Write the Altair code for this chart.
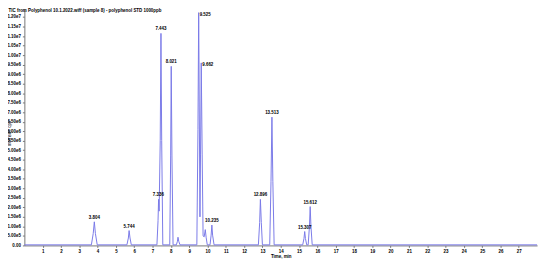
import altair as alt
import pandas as pd

# ---- data ----
trace_t = [0.00, 3.66, 3.76, 3.82, 3.88, 3.98, 5.60, 5.68, 5.72, 5.77, 5.84,
           7.24, 7.30, 7.33, 7.36, 7.42, 7.46, 7.50, 7.56, 7.94, 7.99, 8.02, 8.06, 8.12,
           8.30, 8.36, 8.39, 8.43, 8.50, 9.42, 9.48, 9.52, 9.59, 9.62, 9.66, 9.71, 9.76,
           9.82, 9.88, 9.93, 9.99, 10.14, 10.20, 10.24, 10.28, 10.36,
           12.78, 12.85, 12.89, 12.94, 13.00, 13.40, 13.47, 13.52, 13.57, 13.64,
           15.20, 15.27, 15.31, 15.35, 15.42, 15.50, 15.57, 15.61, 15.65, 15.72, 28.00]
trace_i = [0.03, 0.03, 0.62, 1.24, 0.62, 0.03, 0.03, 0.39, 0.78, 0.39, 0.03,
           0.03, 1.30, 2.42, 1.80, 5.50, 11.14, 5.50, 0.03, 0.03, 4.70, 9.41, 4.70, 0.03,
           0.03, 0.22, 0.43, 0.22, 0.03, 0.03, 6.10, 12.23, 1.50, 4.80, 9.59, 4.80, 0.50,
           0.45, 0.83, 0.40, 0.03, 0.03, 0.54, 1.07, 0.54, 0.03,
           0.03, 1.20, 2.42, 1.20, 0.03, 0.03, 3.37, 6.74, 3.37, 0.03,
           0.03, 0.36, 0.73, 0.36, 0.03, 0.03, 1.02, 2.04, 1.02, 0.03, 0.03]

peak_labels = ["3.804", "5.744", "7.336", "7.443", "8.021", "9.525", "9.662",
               "10.235", "12.896", "13.513", "15.307", "15.612"]
peak_t = [3.82, 5.72, 7.32, 7.46, 8.02, 9.52, 9.66, 10.24, 12.89, 13.52, 15.31, 15.61]
peak_i = [1.24, 0.78, 2.42, 11.14, 9.41, 12.23, 9.59, 1.07, 2.42, 6.74, 0.73, 2.04]
right_side = ["9.525", "9.662"]

x_ticks = list(range(1, 28))
y_ticks = [i * 0.5e6 for i in range(0, 25)]

title_text = "TIC from Polyphenol 10.1.2022.wiff (sample 8) - polyphenol STD 1000ppb"

trace = pd.DataFrame({"t": trace_t, "i": [v * 1e6 for v in trace_i]})
peaks = pd.DataFrame({"t": peak_t, "i": [v * 1e6 for v in peak_i], "lab": peak_labels})

FONT = "Liberation Sans"
LINE = "#7a7ae8"

xs = alt.Scale(domain=[0, 28], nice=False, zero=False)
ys = alt.Scale(domain=[0, 12.38e6], nice=False)

xaxis = alt.Axis(values=x_ticks, title="Time, min", labelPadding=1, titlePadding=1,
                 titleFontWeight="bold")
yaxis = alt.Axis(values=y_ticks, title="Intensity, cps", labelPadding=2,
                 titleFontWeight="normal", titleX=-13, titleY=125,
                 labelExpr="datum.value == 0 ? '0.00' : replace(format(datum.value, '.2e'), '+', '')")

line = alt.Chart(trace).mark_line(color=LINE, strokeWidth=1, clip=False).encode(
    x=alt.X("t:Q", scale=xs, axis=xaxis),
    y=alt.Y("i:Q", scale=ys, axis=yaxis),
)

lab_c = alt.Chart(peaks).transform_filter(
    ~alt.FieldOneOfPredicate(field="lab", oneOf=right_side)
).mark_text(font=FONT, fontSize=4.5, fontWeight="bold", baseline="bottom", dy=-2,
            color="#000").encode(x=alt.X("t:Q", scale=xs, axis=xaxis),
                                  y=alt.Y("i:Q", scale=ys, axis=yaxis), text="lab:N")

lab_r = alt.Chart(peaks).transform_filter(
    alt.FieldOneOfPredicate(field="lab", oneOf=right_side)
).mark_text(font=FONT, fontSize=4.5, fontWeight="bold", baseline="middle", align="left",
            dx=1, dy=2, color="#000").encode(x=alt.X("t:Q", scale=xs, axis=xaxis),
                                              y=alt.Y("i:Q", scale=ys, axis=yaxis), text="lab:N")

title = alt.Chart(pd.DataFrame({"s": [title_text]})).mark_text(
    font=FONT, fontSize=4.5, fontWeight="bold", align="left", baseline="middle", color="#000"
).encode(x=alt.value(-16), y=alt.value(1), text="s:N")

chart = alt.layer(line, lab_c, lab_r, title).properties(
    width=520, height=239,
    autosize="none",
    padding={"left": 16.6, "top": 0, "right": 5, "bottom": 14},
).configure_view(stroke=None).configure_axis(
    grid=False, tickSize=2, labelFontSize=4.5, labelFontWeight="bold", labelFont=FONT,
    labelColor="#000", titleFont=FONT, titleFontSize=4.5, titleColor="#000",
    domainColor="#777", tickColor="#777", labelFlush=False, labelOverlap=False,
    labelBound=False,
)

chart.save("out.html", embed_options={"renderer": "svg", "actions": False})
